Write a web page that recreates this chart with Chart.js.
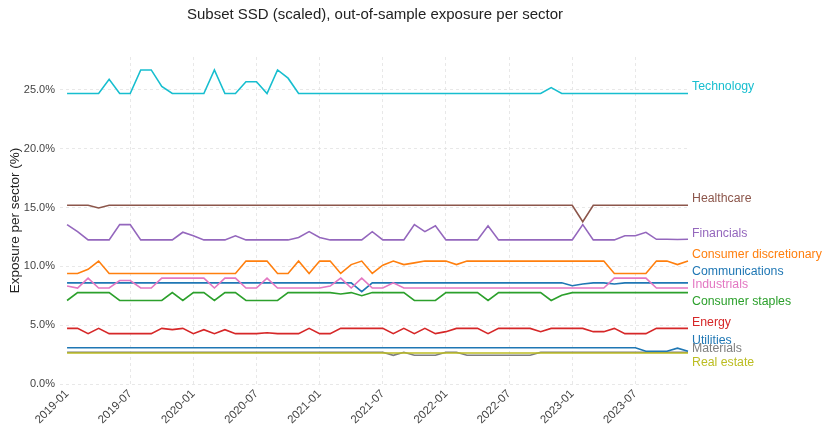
<!DOCTYPE html>
<html>
<head>
<meta charset="utf-8">
<script src="https://cdn.jsdelivr.net/npm/chart.js@4.4.0/dist/chart.umd.min.js"></script>
<style>
  html, body { margin: 0; padding: 0; background: #fff; }
  #wrap { width: 830px; height: 439px; }
</style>
</head>
<body>
<div id="wrap"><canvas id="chart" width="830" height="439"></canvas></div>
<script>
// Kategori bulan 2019-01 .. 2023-12
const months = [];
for (let y = 2019; y <= 2023; y++) {
  for (let m = 1; m <= 12; m++) months.push(y + '-' + String(m).padStart(2, '0'));
}

const sectorNames = ['Communications', 'Consumer discretionary', 'Consumer staples', 'Energy',
  'Financials', 'Healthcare', 'Industrials', 'Materials', 'Real estate', 'Technology', 'Utilities'];

const communications = [8.6,8.6,8.6,8.6,8.6,8.6,8.6,8.6,8.6,8.6, 8.6,8.6,8.6,8.6,8.6,8.6,8.6,8.6,8.6,8.6,
  8.6,8.6,8.6,8.6,8.6,8.6,8.6,8.6,7.85,8.6, 8.6,8.6,8.6,8.6,8.6,8.6,8.6,8.6,8.6,8.6,
  8.6,8.6,8.6,8.6,8.6,8.6,8.6,8.6,8.35,8.5, 8.6,8.6,8.5,8.6,8.6,8.6,8.6,8.6,8.6,8.6];
const consumerDiscretionary = [9.4,9.4,9.75,10.45,9.4,9.4,9.4,9.4,9.4,9.4, 9.4,9.4,9.4,9.4,9.4,9.4,9.4,10.45,10.45,10.45,
  9.4,9.4,10.45,9.4,10.45,10.45,9.4,10.15,10.45,9.4, 10.1,10.45,10.15,10.3,10.45,10.45,10.45,10.15,10.45,10.45,
  10.45,10.45,10.45,10.45,10.45,10.45,10.45,10.45,10.45,10.45, 10.45,10.45,9.4,9.4,9.4,9.4,10.45,10.45,10.15,10.45];
const consumerStaples = [7.1,7.77,7.77,7.77,7.77,7.1,7.1,7.1,7.1,7.1, 7.77,7.1,7.77,7.77,7.1,7.77,7.77,7.1,7.1,7.1,
  7.1,7.77,7.77,7.77,7.77,7.77,7.65,7.77,7.5,7.77, 7.77,7.77,7.77,7.1,7.1,7.1,7.77,7.77,7.77,7.77,
  7.1,7.77,7.77,7.77,7.77,7.77,7.1,7.55,7.77,7.77, 7.77,7.77,7.77,7.77,7.77,7.77,7.77,7.77,7.77,7.77];
const energy = [4.73,4.73,4.28,4.73,4.28,4.28,4.28,4.28,4.28,4.73, 4.62,4.73,4.28,4.62,4.28,4.62,4.28,4.28,4.28,4.36,
  4.28,4.28,4.28,4.73,4.28,4.28,4.73,4.73,4.73,4.73, 4.73,4.28,4.73,4.28,4.73,4.28,4.45,4.73,4.73,4.73,
  4.28,4.73,4.73,4.73,4.73,4.45,4.73,4.73,4.73,4.73, 4.45,4.45,4.73,4.28,4.28,4.28,4.73,4.73,4.73,4.73];
const financials = [13.55,12.95,12.25,12.25,12.25,13.55,13.55,12.25,12.25,12.25, 12.25,12.9,12.6,12.25,12.25,12.25,12.6,12.25,12.25,12.25,
  12.25,12.25,12.45,12.95,12.45,12.25,12.25,12.25,12.25,12.95, 12.25,12.25,12.25,13.55,12.95,13.45,12.25,12.25,12.25,12.25,
  13.45,12.25,12.25,12.25,12.25,12.25,12.25,12.25,12.25,13.55, 12.25,12.25,12.25,12.6,12.6,12.9,12.3,12.3,12.28,12.3];
const healthcare = [15.2,15.2,15.2,14.97,15.2,15.2,15.2,15.2,15.2,15.2, 15.2,15.2,15.2,15.2,15.2,15.2,15.2,15.2,15.2,15.2,
  15.2,15.2,15.2,15.2,15.2,15.2,15.2,15.2,15.2,15.2, 15.2,15.2,15.2,15.2,15.2,15.2,15.2,15.2,15.2,15.2,
  15.2,15.2,15.2,15.2,15.2,15.2,15.2,15.2,15.2,13.8, 15.2,15.2,15.2,15.2,15.2,15.2,15.2,15.2,15.2,15.2];
const industrials = [8.33,8.16,9.0,8.16,8.16,8.8,8.8,8.16,8.16,9.0, 9.0,9.0,9.0,9.0,8.16,9.0,9.0,8.16,8.16,9.0,
  8.16,8.16,8.16,8.16,8.16,8.33,9.0,8.16,9.0,8.16, 8.16,8.6,8.16,8.16,8.16,8.16,8.16,8.16,8.16,8.16,
  8.16,8.16,8.16,8.16,8.16,8.16,8.16,8.16,8.16,8.16, 8.16,8.16,9.0,9.0,9.0,9.0,8.16,8.16,8.16,8.16];
const materials = [2.7,2.7,2.7,2.7,2.7,2.7,2.7,2.7,2.7,2.7, 2.7,2.7,2.7,2.7,2.7,2.7,2.7,2.7,2.7,2.7,
  2.7,2.7,2.7,2.7,2.7,2.7,2.7,2.7,2.7,2.7, 2.7,2.44,2.7,2.44,2.44,2.44,2.7,2.7,2.44,2.44,
  2.44,2.44,2.44,2.44,2.44,2.7,2.7,2.7,2.7,2.7, 2.7,2.7,2.7,2.7,2.7,2.7,2.7,2.7,2.7,2.7];
const realEstate = [2.63,2.63,2.63,2.63,2.63,2.63,2.63,2.63,2.63,2.63, 2.63,2.63,2.63,2.63,2.63,2.63,2.63,2.63,2.63,2.63,
  2.63,2.63,2.63,2.63,2.63,2.63,2.63,2.63,2.63,2.63, 2.63,2.63,2.63,2.63,2.63,2.63,2.63,2.63,2.63,2.63,
  2.63,2.63,2.63,2.63,2.63,2.63,2.63,2.63,2.63,2.63, 2.63,2.63,2.63,2.63,2.63,2.63,2.63,2.63,2.63,2.63];
const technology = [24.7,24.7,24.7,24.7,25.9,24.7,24.7,26.7,26.7,25.3, 24.7,24.7,24.7,24.7,26.7,24.7,24.7,25.7,25.7,24.7,
  26.7,26.0,24.7,24.7,24.7,24.7,24.7,24.7,24.7,24.7, 24.7,24.7,24.7,24.7,24.7,24.7,24.7,24.7,24.7,24.7,
  24.7,24.7,24.7,24.7,24.7,24.7,25.2,24.7,24.7,24.7, 24.7,24.7,24.7,24.7,24.7,24.7,24.7,24.7,24.7,24.7];
const utilities = [3.08,3.08,3.08,3.08,3.08,3.08,3.08,3.08,3.08,3.08, 3.08,3.08,3.08,3.08,3.08,3.08,3.08,3.08,3.08,3.08,
  3.08,3.08,3.08,3.08,3.08,3.08,3.08,3.08,3.08,3.08, 3.08,3.08,3.08,3.08,3.08,3.08,3.08,3.08,3.08,3.08,
  3.08,3.08,3.08,3.08,3.08,3.08,3.08,3.08,3.08,3.08, 3.08,3.08,3.08,3.08,3.08,2.78,2.78,2.78,3.05,2.78];

const yTicks = [0, 5, 10, 15, 20, 25];

// Gaya
const seriesValues = [communications, consumerDiscretionary, consumerStaples, energy, financials,
  healthcare, industrials, materials, realEstate, technology, utilities];
const colors = ['#1f77b4', '#ff7f0e', '#2ca02c', '#d62728', '#9467bd', '#8c564b',
  '#e377c2', '#7f7f7f', '#bcbd22', '#17becf', '#1f77b4'];
// geser label di ujung kanan (px) supaya tidak tumpang tindih
const labelNudge = [-11, -6, 9, -6, -6, -7, -3, -3.5, 9.3, -7, -10.6];
const FONT = "'Liberation Sans', Arial, sans-serif";

const datasets = sectorNames.map((name, i) => ({
  label: name,
  data: seriesValues[i].map((v, j) => ({ x: j, y: v })),
  borderColor: colors[i],
  backgroundColor: colors[i],
  borderWidth: 1.6,
  pointRadius: 0,
  tension: 0,
  order: sectorNames.length - i,
}));

// Plugin: judul + label nama sektor di kanan
const endLabels = {
  id: 'endLabels',
  afterDatasetsDraw(chart) {
    const { ctx, chartArea } = chart;
    ctx.save();
    ctx.font = '12.3px ' + FONT;
    ctx.textAlign = 'left';
    ctx.textBaseline = 'middle';
    chart.data.datasets.forEach((ds, i) => {
      const meta = chart.getDatasetMeta(i);
      const last = meta.data[meta.data.length - 1];
      ctx.fillStyle = colors[i];
      ctx.fillText(ds.label, chartArea.right + 2, last.y + labelNudge[i]);
    });
    ctx.font = '15px ' + FONT;
    ctx.fillStyle = '#222';
    ctx.textAlign = 'center';
    ctx.fillText('Subset SSD (scaled), out-of-sample exposure per sector', (chartArea.left + chartArea.right) / 2, 15);
    ctx.restore();
  }
};

const isStep = (v, s) => Math.abs(v / s - Math.round(v / s)) < 1e-6;

new Chart(document.getElementById('chart'), {
  type: 'line',
  data: { datasets },
  options: {
    responsive: false,
    animation: false,
    layout: { padding: { top: 57, right: 140, left: 7, bottom: 0 } },
    plugins: { legend: { display: false }, tooltip: { enabled: false }, title: { display: false } },
    scales: {
      x: {
        type: 'linear',
        min: -0.67,
        max: 59.19,
        afterBuildTicks: (scale) => {
          scale.ticks = months.map((m, i) => ({ value: i })).filter(t => t.value % 6 === 0);
        },
        afterFit: (scale) => { scale.height = 55; },
        ticks: {
          autoSkip: false,
          maxRotation: 45,
          minRotation: 45,
          padding: 3,
          color: '#444',
          font: { family: FONT, size: 11.5 },
          callback: (v) => months[v] || '',
        },
        grid: {
          drawTicks: false,
          color: (c) => (c.tick && c.tick.value === 0 ? 'rgba(0,0,0,0)' : '#e3e3e3'),
          lineWidth: 0.8,
        },
        border: { display: false, dash: [3, 3] },
      },
      y: {
        min: 0,
        max: 27.8,
        afterBuildTicks: (scale) => {
          scale.ticks = yTicks.map(v => ({ value: v }));
        },
        afterFit: (scale) => { scale.width = 53; },
        ticks: {
          padding: 5,
          color: '#444',
          font: { family: FONT, size: 11 },
          callback: (v) => (isStep(v, 5) ? v.toFixed(1) + '%' : ''),
        },
        title: {
          display: true,
          text: 'Exposure per sector (%)',
          color: '#222',
          font: { family: FONT, size: 13.5 },
          padding: { top: 0, bottom: 2 },
        },
        grid: { drawTicks: false, color: '#e3e3e3', lineWidth: 0.8 },
        border: { display: false, dash: [3, 3] },
      },
    },
  },
  plugins: [endLabels],
});
</script>
</body>
</html>
